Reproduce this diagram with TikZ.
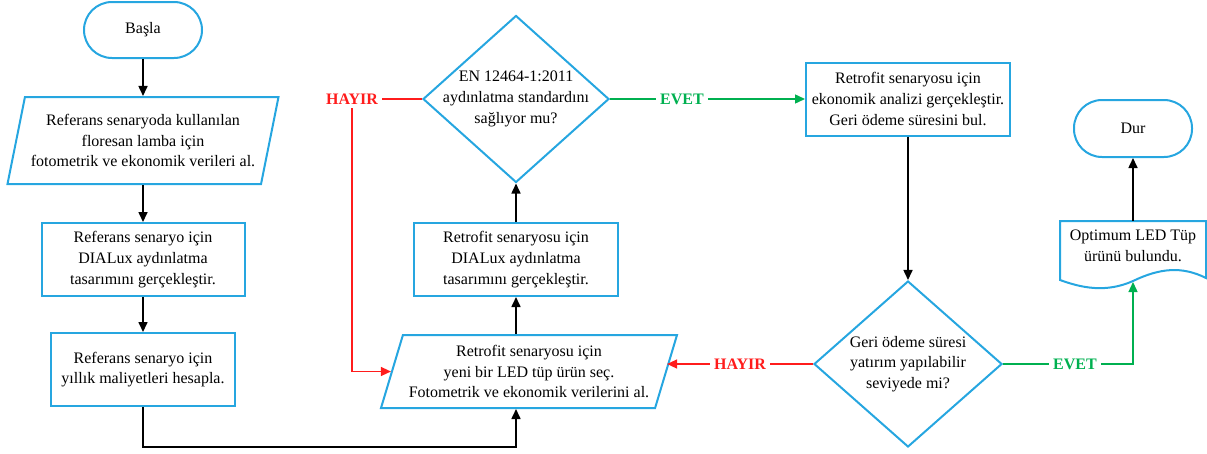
\documentclass[tikz,border=0pt]{standalone}
\usepackage{fontspec}
\setmainfont{Liberation Serif}
\usepackage{tikz}
\usetikzlibrary{arrows.meta, positioning, shapes.geometric}
\usepackage{xcolor}
\definecolor{flowblue}{RGB}{38,166,224}
\definecolor{nored}{RGB}{255,28,28}
\definecolor{yesgreen}{RGB}{0,176,80}
\tikzset{%
	flowtext/.style={
		align=center,
		font=\fontsize{16}{20.8}\selectfont
	},
	base/.style={
		flowtext,
		draw=flowblue,
		line width=2pt,
		inner sep=2pt
	},
	termbox/.style={base, rectangle, rounded corners=28pt},
	procbox/.style={base, rectangle},
	iobox/.style={
		base,
		trapezium,
		trapezium stretches body,
		inner xsep=0pt
	},
	decbox/.style={base, diamond},
	flow/.style={-{Triangle[length=10pt,width=9pt]}, line width=1.6pt},
	nolink/.style={draw=nored, line width=1.4pt},
	yeslink/.style={draw=yesgreen, line width=1.4pt},
	answer/.style={font=\bfseries\fontsize{16}{20.8}\selectfont, inner sep=4pt},
}

\begin{document}
\begin{tikzpicture}[x=1pt, y=-1pt]
			\useasboundingbox (0,0) rectangle (1207,453);

			% Draw the reference scenario column
			\node[termbox, minimum width=118, minimum height=56] (basla) at (143,30) {Başla};
			\node[iobox, trapezium left angle=73, trapezium right angle=107,
				minimum width=271, minimum height=87] (ref1) at (143,140.5)
				{Referans senaryoda kullanılan\\floresan lamba için\\fotometrik ve ekonomik verileri al.};
			\node[procbox, minimum width=203, minimum height=73] (ref2) at (143,259.5)
				{Referans senaryo için\\DIALux aydınlatma\\tasarımını gerçekleştir.};
			\node[procbox, minimum width=184, minimum height=73] (ref3) at (143,369.5)
				{Referans senaryo için\\yıllık maliyetleri hesapla.};

			% Draw the retrofit column
			\node[iobox, trapezium left angle=69, trapezium right angle=111,
				minimum width=296, minimum height=73] (ret1) at (529,371.5)
				{Retrofit senaryosu için\\yeni bir LED tüp ürün seç.\\Fotometrik ve ekonomik verilerini al.};
			\node[procbox, minimum width=204, minimum height=73] (ret2) at (516,259.5)
				{Retrofit senaryosu için\\DIALux aydınlatma\\tasarımını gerçekleştir.};
			\node[decbox, minimum width=186, minimum height=167] (d1) at (516,99) {};
			\node[flowtext] (d1text) at (d1) {EN 12464-1:2011\\aydınlatma standardını\\sağlıyor mu?};

			% Draw the economic column
			\node[procbox, minimum width=204, minimum height=73] (ret3) at (908,99)
				{Retrofit senaryosu için\\ekonomik analizi gerçekleştir.\\Geri ödeme süresini bul.};
			\node[decbox, minimum width=188, minimum height=166] (d2) at (908,364) {};
			\node[flowtext] (d2text) at (d2) {Geri ödeme süresi\\yatırım yapılabilir\\seviyede mi?};

			% Draw the result document and the stop
			\node[flowtext, outer sep=0pt, minimum width=146, minimum height=50] (doc) at (1133,246)
				{Optimum LED Tüp\\ürünü bulundu.};
			\draw[draw=flowblue, line width=2pt] (doc.north west) -- (doc.north east) -- (1206,278)
				.. controls (1182,266) and (1160,268) .. (1133,281)
				.. controls (1106,293) and (1082,288) .. (1060,280) -- cycle;
			\coordinate (docwave) at (1133,282);
			\node[termbox, minimum width=118, minimum height=57] (dur) at (1133,128.5) {Dur};

			% Draw the answers
			\node[answer, text=nored] (hayir1) at (352,99) {HAYIR};
			\node[answer, text=yesgreen] (evet1) at (682,99) {EVET};
			\node[answer, text=nored] (hayir2) at (740,364) {HAYIR};
			\node[answer, text=yesgreen] (evet2) at (1075,364) {EVET};

			% Draw the arrows
			\draw[flow] (basla) -- (ref1);
			\draw[flow] (ref1) -- (ref2);
			\draw[flow] (ref2) -- (ref3);
			\coordinate (join) at (516,447);
			\draw[flow] (ref3.south) |- (join) -- (ret1.south -| join);
			\draw[flow] (ret1.north -| ret2) -- (ret2);
			\draw[flow] (ret2) -- (d1);
			\draw[nolink] (d1.west) -- (hayir1.east);
			\draw[flow, nolink] (hayir1.south) |- (ret1.west);
			\draw[yeslink] (d1.east) -- (evet1.west);
			\draw[flow, yeslink] (evet1.east) -- (ret3.west);
			\draw[flow] (ret3) -- (d2);
			\draw[nolink] (d2.west) -- (hayir2.east);
			\draw[flow, nolink] (hayir2.west) -- (hayir2.west -| ret1.east);
			\draw[yeslink] (d2.east) -- (evet2.west);
			\draw[flow, yeslink] (evet2.east) -| (docwave);
			\draw[flow] (doc.north) -- (dur);

		\end{tikzpicture}
\end{document}
